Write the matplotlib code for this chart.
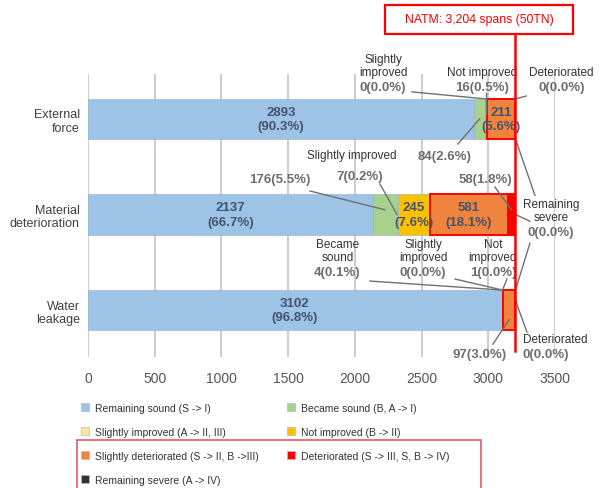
import matplotlib
matplotlib.use("Agg")
import matplotlib.pyplot as plt
import numpy as np
from matplotlib.patches import Patch, Rectangle

causes = ["External\nforce", "Material\ndeterioration", "Water\nleakage"]
states = [
    "Remaining sound (S -> I)",
    "Became sound (B, A -> I)",
    "Slightly improved (A -> II, III)",
    "Not improved (B -> II)",
    "Slightly deteriorated (S -> II, B ->III)",
    "Deteriorated (S -> III, S, B -> IV)",
    "Remaining severe (A -> IV)",
]
colors = ["#9DC3E6", "#A9D18E", "#FFE699", "#FFC000", "#F0843F", "#FF0000", "#333333"]

remaining_sound = [2893, 2137, 3102]
became_sound = [84, 176, 4]
slightly_improved = [0, 7, 0]
not_improved = [16, 245, 1]
slightly_deteriorated = [211, 581, 97]
deteriorated = [0, 58, 0]
remaining_severe = [0, 0, 0]

# percentages as printed on the chart
pct_remaining_sound = [90.3, 66.7, 96.8]
pct_became_sound = [2.6, 5.5, 0.1]
pct_slightly_improved = [0.0, 0.2, 0.0]
pct_not_improved = [0.5, 7.6, 0.0]
pct_slightly_deteriorated = [5.6, 18.1, 3.0]
pct_deteriorated = [0.0, 1.8, 0.0]
pct_remaining_severe = [0.0, 0.0, 0.0]

total_spans = 3204
title = "NATM: 3,204 spans (50TN)"

values = np.array([remaining_sound, became_sound, slightly_improved, not_improved,
                   slightly_deteriorated, deteriorated, remaining_severe], dtype=float)
pcts = np.array([pct_remaining_sound, pct_became_sound, pct_slightly_improved,
                 pct_not_improved, pct_slightly_deteriorated, pct_deteriorated,
                 pct_remaining_severe])
lefts = np.vstack([np.zeros(3), np.cumsum(values, axis=0)[:-1]])
mids = lefts + values / 2

plt.rcParams["font.family"] = ["Liberation Sans", "DejaVu Sans"]

fig = plt.figure(figsize=(6.08, 4.89), dpi=100)
ax = fig.add_axes([0.1447, 0.268, 0.7681, 0.5786])
y = np.arange(len(causes))
bar_h = 0.42

handles = []
for i, (name, c) in enumerate(zip(states, colors)):
    ec = "#FF0000" if i >= 4 else "#8FB0CC"
    lw = 1.4 if i >= 4 else 0.4
    ax.barh(y, values[i], left=lefts[i], height=bar_h, color=c,
            edgecolor=ec, linewidth=lw, zorder=3)
    handles.append(Patch(facecolor=c, edgecolor="#bbbbbb", linewidth=0.5, label=name))

ax.set_xlim(0, 3500)
ax.set_ylim(2.49, -0.47)
ax.set_xticks(np.arange(0, 3501, 500))
ax.set_yticks(y)
ax.set_yticklabels(causes, fontsize=9, color="#404040", linespacing=1.15)
ax.tick_params(axis="both", length=0)
ax.tick_params(axis="x", pad=10, labelsize=10, labelcolor="#555555")
ax.tick_params(axis="y", pad=6)
for s in ax.spines.values():
    s.set_visible(False)
ax.grid(axis="x", color="#c8c8c8", linewidth=1.3, zorder=0)
ax.set_axisbelow(True)

inner = dict(fontsize=9.5, fontweight="bold", color="#44546A", ha="center",
             va="center", zorder=5, linespacing=1.3)
for row in range(3):
    for k in range(7):
        if values[k, row] >= 200:
            ax.text(mids[k, row], row, f"{int(values[k, row])}\n({pcts[k, row]:.1f}%)", **inner)

line_kw = dict(color="#707070", linewidth=1.0, clip_on=False, zorder=6)


def callout(k, row, words, tx, ty, start, target_y, target_x=None, ha="center"):
    num = f"{int(values[k, row])}({pcts[k, row]:.1f}%)"
    ax.text(tx, ty, num, ha=ha, va="center", fontsize=9.5, fontweight="bold",
            color="#6e6e6e", clip_on=False, zorder=6)
    if words:
        ax.text(tx, ty - 0.09, words, fontsize=8.5, color="#333333", ha=ha,
                va="bottom", linespacing=1.15, clip_on=False, zorder=6)
    if target_x is None:
        target_x = mids[k, row]
    ax.plot([start[0], target_x], [start[1], target_y], **line_kw)


# External force
callout(2, 0, "Slightly\nimproved", 2211, -0.335, (2428, -0.283), -0.21)
callout(3, 0, "Not improved", 2955, -0.335, (2985, -0.27), -0.05)
callout(5, 0, "Deteriorated", 3550, -0.335, (3285, -0.24), -0.21, target_x=total_spans)
callout(1, 0, "", 2676, 0.39, (2773, 0.262), 0.0)
# Material deterioration
ax.text(1979, 0.377, "Slightly improved", fontsize=8.5, color="#333333", ha="center",
        va="center", zorder=6)
callout(2, 1, "", 2039, 0.60, (2188, 0.681), 1.0)
callout(1, 1, "", 1439, 0.63, (1664, 0.754), 0.95)
callout(5, 1, "", 2975, 0.63, (3050, 0.712), 0.95)
callout(6, 1, "Remaining\nsevere", 3470, 1.18, (3350, 0.80), 0.21, target_x=total_spans)
ax.plot([3312, total_spans], [1.07, 1.0], **line_kw)
ax.plot([3312, total_spans], [1.30, 1.79], **line_kw)
# Water leakage
callout(1, 2, "Became\nsound", 1870, 1.60, (2113, 1.696), 1.79)
callout(2, 2, "Slightly\nimproved", 2511, 1.60, (2751, 1.675), 1.79)
callout(3, 2, "Not\nimproved", 3035, 1.60, (3140, 1.675), 1.79)
callout(4, 2, "", 2938, 2.46, (3035, 2.356), 2.1)
callout(5, 2, "Deteriorated", 3260, 2.46, (3290, 2.23), 1.9, target_x=total_spans, ha="left")

# total marker line and title box
ax.plot([total_spans, total_spans], [-0.89, 2.43], color="#FF0000", linewidth=1.8,
        clip_on=False, zorder=7)
fig.add_artist(Rectangle((385 / 608, 1 - 35 / 489), 188 / 608, 29 / 489,
                         transform=fig.transFigure, facecolor="white",
                         edgecolor="#FF0000", linewidth=1.6, zorder=8))
fig.text(479 / 608, 1 - 20.5 / 489, title, fontsize=8.8, color="#FF0000",
         ha="center", va="center", zorder=9)

order = [0, 2, 4, 6, 1, 3, 5]
fig.legend([handles[i] for i in order], [states[i] for i in order], ncol=2,
           loc="upper left", bbox_to_anchor=(0.125, 0.185), frameon=False,
           fontsize=7.5, handlelength=0.75, handleheight=0.75, handletextpad=0.6,
           labelspacing=1.35, columnspacing=2.7, borderpad=0, labelcolor="#333333")
fig.add_artist(Rectangle((77 / 608, -0.01), (481 - 77) / 608, (489 - 441) / 489 + 0.01,
                         transform=fig.transFigure, fill=False, edgecolor="#E05A66",
                         linewidth=1.2))

fig.savefig("out.png", dpi=100)
